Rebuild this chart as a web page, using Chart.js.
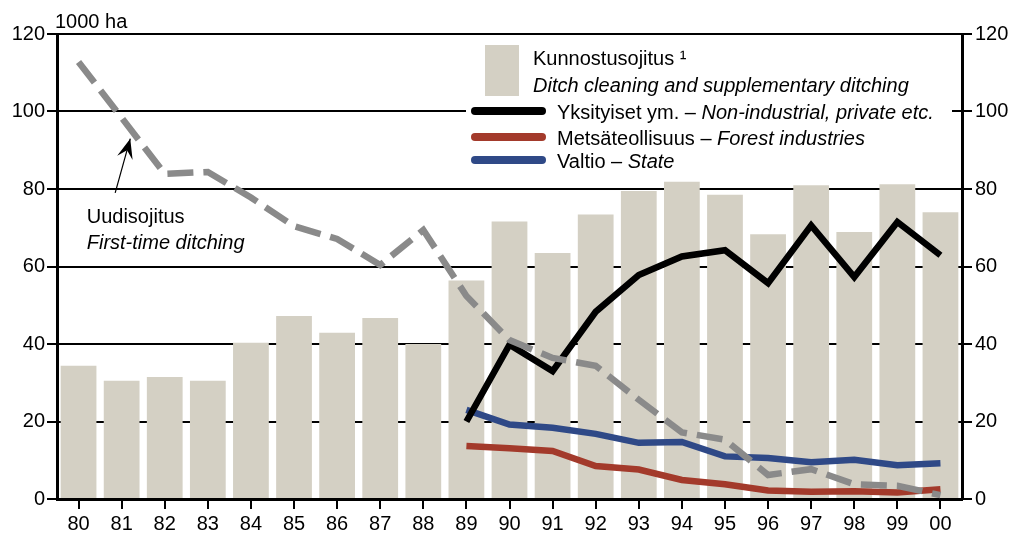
<!DOCTYPE html>
<html>
<head>
<meta charset="utf-8">
<script src="https://cdn.jsdelivr.net/npm/chart.js@4"></script>
<style>
  html, body { margin: 0; padding: 0; background: #fff; }
  #wrap { width: 1018px; height: 536px; }
</style>
</head>
<body>
<div id="wrap"><canvas id="chart"></canvas></div>
<script>
// Ditching in Finland, 1980-2000 (1000 ha)
const years = ['80', '81', '82', '83', '84', '85', '86', '87', '88', '89', '90',
               '91', '92', '93', '94', '95', '96', '97', '98', '99', '00'];

// Kunnostusojitus - Ditch cleaning and supplementary ditching
const ditchCleaning = [34.4, 30.5, 31.5, 30.5, 40.3, 47.2, 42.9, 46.7, 40.0, 56.4, 71.6,
                       63.5, 73.4, 79.5, 81.9, 78.5, 68.3, 81.0, 68.9, 81.2, 74.0];
// Uudisojitus - First-time ditching
const firstTime = [112.8, 98.4, 83.9, 84.4, 77.8, 70.4, 67.1, 60.4, 69.4, 52.4, 41.0,
                   36.4, 34.4, 25.6, 17.2, 15.3, 6.2, 7.7, 3.8, 3.4, 1.0];
// Yksityiset ym. - Non-industrial, private etc.
const privateEtc = [null, null, null, null, null, null, null, null, null, 20.0, 39.8,
                    33.0, 48.3, 57.8, 62.6, 64.2, 55.7, 70.6, 57.3, 71.5, 62.9];
// Metsateollisuus - Forest industries
const forestInd = [null, null, null, null, null, null, null, null, null, 13.7, 13.1,
                   12.4, 8.5, 7.6, 4.9, 3.8, 2.2, 1.9, 2.0, 1.7, 2.5];
// Valtio - State
const stateLand = [null, null, null, null, null, null, null, null, null, 23.0, 19.2,
                   18.4, 16.8, 14.5, 14.7, 11.0, 10.6, 9.5, 10.1, 8.7, 9.2];

const yMin = 0, yMax = 120, yStep = 20;

const BAR = '#d4d0c4';
const GREY = '#8a8a8a';
const RED = '#a33a2b';
const BLUE = '#2f4987';
const FONT = '"Liberation Sans", Arial, Helvetica, sans-serif';
const FS = 20;

Chart.defaults.font.family = FONT;
Chart.defaults.font.size = FS;
Chart.defaults.color = '#000';

// draws mixed upright/italic text pieces on one baseline
function drawPieces(ctx, x, y, pieces, size) {
    pieces.forEach(p => {
        ctx.font = (p.italic ? 'italic ' : '') + size + 'px ' + FONT;
        ctx.fillText(p.text, x, y);
        x += ctx.measureText(p.text).width;
    });
}

const legendBox = {
    id: 'legendBox',
    afterDatasetsDraw(chart) {
        const ctx = chart.ctx;
        ctx.save();
        ctx.fillStyle = '#fff';
        ctx.fillRect(466, 38, 486, 138);

        ctx.fillStyle = BAR;
        ctx.fillRect(485, 45, 34, 51);

        ctx.fillStyle = '#000';
        ctx.textBaseline = 'alphabetic';
        drawPieces(ctx, 533, 65, [{ text: 'Kunnostusojitus ¹' }], FS);
        drawPieces(ctx, 533, 92, [{ text: 'Ditch cleaning and supplementary ditching', italic: true }], FS);

        const rows = [
            { color: '#000', y: 111, pieces: [{ text: 'Yksityiset ym. – ' }, { text: 'Non-industrial, private etc.', italic: true }] },
            { color: RED, y: 137, pieces: [{ text: 'Metsäteollisuus – ' }, { text: 'Forest industries', italic: true }] },
            { color: BLUE, y: 160, pieces: [{ text: 'Valtio – ' }, { text: 'State', italic: true }] }
        ];
        rows.forEach(r => {
            ctx.strokeStyle = r.color;
            ctx.lineWidth = 8;
            ctx.lineCap = 'round';
            ctx.beginPath();
            ctx.moveTo(475, r.y);
            ctx.lineTo(542, r.y);
            ctx.stroke();
            ctx.fillStyle = '#000';
            drawPieces(ctx, 557, r.y + 8, r.pieces, FS);
        });

        // unit label
        ctx.font = FS + 'px ' + FONT;
        ctx.fillText('1000 ha', 55, 28);
        ctx.restore();
    }
};

// arrow + label for first-time ditching, anchored to the scales
const ditchNote = {
    id: 'ditchNote',
    afterDatasetsDraw(chart) {
        const { ctx, scales: { x, y } } = chart;
        const tipX = x.getPixelForValue(1.2), tipY = y.getPixelForValue(93);
        const tailX = x.getPixelForValue(0.85), tailY = y.getPixelForValue(79);
        ctx.save();
        ctx.strokeStyle = '#000';
        ctx.fillStyle = '#000';
        ctx.lineWidth = 1.2;
        ctx.beginPath();
        ctx.moveTo(tailX, tailY);
        ctx.lineTo(tipX, tipY);
        ctx.stroke();
        const ang = Math.atan2(tipY - tailY, tipX - tailX);
        const len = 20, half = 8;
        const bx = tipX - len * Math.cos(ang), by = tipY - len * Math.sin(ang);
        ctx.beginPath();
        ctx.moveTo(tipX, tipY);
        ctx.lineTo(bx + half * Math.sin(ang), by - half * Math.cos(ang));
        ctx.lineTo(bx + 0.4 * len * Math.cos(ang), by + 0.4 * len * Math.sin(ang));
        ctx.lineTo(bx - half * Math.sin(ang), by + half * Math.cos(ang));
        ctx.closePath();
        ctx.fill();

        const tx = x.getPixelForValue(0.19);
        drawPieces(ctx, tx, y.getPixelForValue(71.2), [{ text: 'Uudisojitus' }], FS);
        drawPieces(ctx, tx, y.getPixelForValue(64.5), [{ text: 'First-time ditching', italic: true }], FS);
        ctx.restore();
    }
};

const lineDs = (label, data, color, order) => ({
    type: 'line',
    label: label,
    data: data,
    borderColor: color,
    borderWidth: 6.5,
    pointRadius: 0,
    tension: 0,
    borderJoinStyle: 'miter',
    borderCapStyle: 'butt',
    order: order
});

new Chart(document.getElementById('chart'), {
    type: 'bar',
    data: {
        labels: years,
        datasets: [
            {
                label: 'Kunnostusojitus',
                data: ditchCleaning,
                backgroundColor: BAR,
                barPercentage: 0.83,
                categoryPercentage: 1,
                order: 3
            },
            Object.assign(lineDs('Uudisojitus', firstTime, GREY, 0), { borderDash: [26, 10] }),
            lineDs('Yksityiset ym.', privateEtc, '#000', 1),
            lineDs('Metsäteollisuus', forestInd, RED, 2),
            lineDs('Valtio', stateLand, BLUE, 2)
        ]
    },
    options: {
        responsive: true,
        maintainAspectRatio: false,
        animation: false,
        layout: { padding: { top: 34 } },
        plugins: {
            legend: { display: false },
            tooltip: { enabled: false }
        },
        scales: {
            x: {
                grid: { offset: false, drawOnChartArea: false, color: '#000', lineWidth: 2, tickLength: 10 },
                border: { color: '#000', width: 3 },
                ticks: { padding: 3 },
                afterFit: s => { s.height = 37; }
            },
            y: {
                min: yMin, max: yMax,
                ticks: { stepSize: yStep, padding: 2 },
                grid: { color: '#000', lineWidth: 2, tickLength: 10 },
                border: { color: '#000', width: 3 },
                afterFit: s => { s.width = 57; }
            },
            y2: {
                position: 'right',
                min: yMin, max: yMax,
                ticks: { stepSize: yStep, padding: 3 },
                grid: { drawOnChartArea: false, color: '#000', lineWidth: 2, tickLength: 10 },
                border: { color: '#000', width: 3 },
                afterFit: s => { s.width = 56; }
            }
        }
    },
    plugins: [legendBox, ditchNote]
});
</script>
</body>
</html>
